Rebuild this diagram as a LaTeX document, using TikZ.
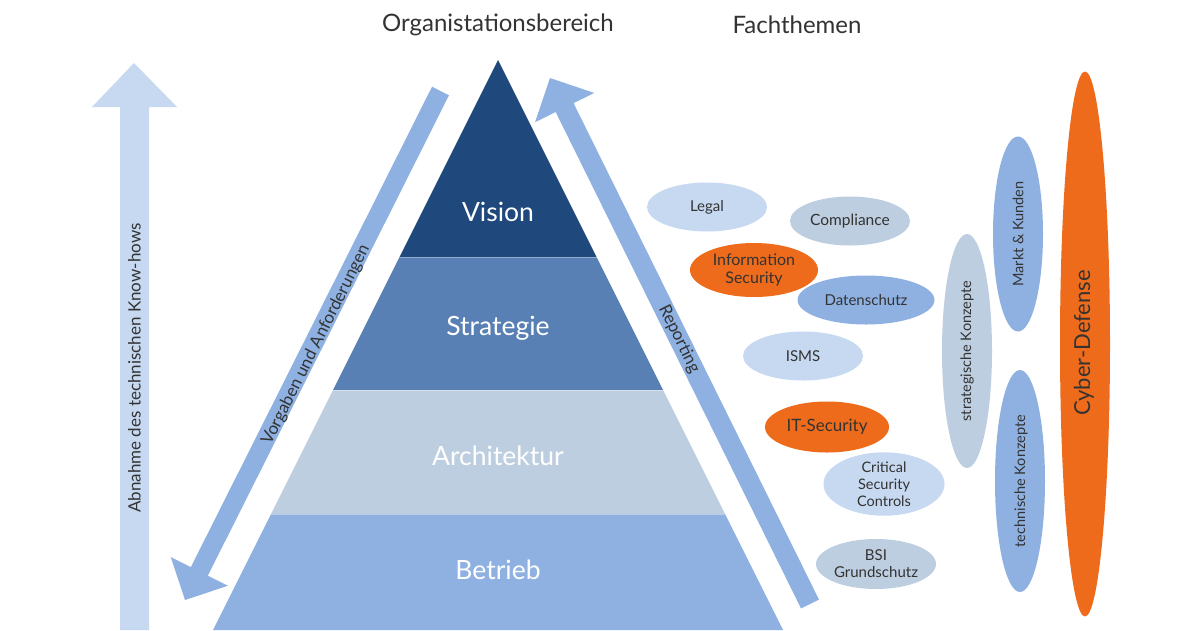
\documentclass[tikz,border=0pt]{standalone}
\usepackage{fontspec}
\setmainfont{Lato}
\usetikzlibrary{shapes.geometric,calc}
\definecolor{navy}{HTML}{1F497D}
\definecolor{strat}{HTML}{5880B4}
\definecolor{greyb}{HTML}{BDCEE1}
\definecolor{midb}{HTML}{8EB1E2}
\definecolor{lightb}{HTML}{C6D9F1}
\definecolor{orng}{HTML}{EE6B1B}
\definecolor{txt}{HTML}{333333}
\begin{document}
\begin{tikzpicture}[x=1pt,y=-1pt,
  bubble/.style={ellipse, inner sep=0pt, text=txt, align=center,
    font=\fontsize{15}{17.5}\selectfont},
  vbubble/.style={ellipse, inner sep=0pt, minimum width=50pt},
  vlabel/.style={rotate=90, text=txt, inner sep=0pt, font=\fontsize{14.5}{17}\selectfont},
  layer/.style={text=white, font=\fontsize{26.5}{30}\selectfont, inner sep=0pt},
  head/.style={text=txt, font=\fontsize{24}{28}\selectfont, inner sep=0pt},
  arrowtext/.style={text=txt, inner sep=0pt, font=\fontsize{17}{20}\selectfont}]
\useasboundingbox (0,0) rectangle (1200,630);
\fill[white] (0,0) rectangle (1200,630);

% headings
\node[head] (org) at (498,25) {Organistationsbereich};
\node[head] (fach) at (797,25) {Fachthemen};

% left vertical arrow
\fill[lightb] (120,630) -- (120,107) -- (92,107) -- (134,63) -- (177,107) -- (149,107) -- (149,630) -- cycle;
\node[arrowtext, rotate=90] (abn) at (134.5,368) {Abnahme des technischen Know-hows};

% pyramid
\fill[navy] (498,60) -- (596.5,257) -- (399.5,257) -- cycle;
\fill[strat] (399.5,257) -- (596.5,257) -- (663,390) -- (333,390) -- cycle;
\fill[greyb] (333,390) -- (663,390) -- (725,514) -- (271,514) -- cycle;
\fill[midb] (271,514) -- (725,514) -- (783,630) -- (213,630) -- cycle;
\draw[white, opacity=0.35, line width=0.8pt] (399.5,257) -- (596.5,257);
\draw[white, opacity=0.35, line width=0.8pt] (333,390) -- (663,390);
\draw[white, opacity=0.35, line width=0.8pt] (271,514) -- (725,514);
\node[layer] (vision) at (498,212) {Vision};
\node[layer] (strategie) at (498,328) {Strategie};
\node[layer] (archi) at (498,456) {Architektur};
\node[layer] (betrieb) at (498,570) {Betrieb};

% Vorgaben arrow (down-left)
\coordinate (vT) at (440.5,91);
\coordinate (vP) at (185,600);
\coordinate (vH) at ($(vP)!32pt!(vT)$);
\fill[midb] ($(vT)!9.5pt!90:(vP)$) -- ($(vH)!9.5pt!-90:(vT)$) -- ($(vH)!32pt!-90:(vT)$)
  -- (vP) -- ($(vH)!32pt!90:(vT)$) -- ($(vH)!9.5pt!90:(vT)$) -- ($(vT)!9.5pt!-90:(vP)$) -- cycle;
\node[arrowtext, rotate=63.4] (vorg) at (316,345) {Vorgaben und Anforderungen};

% Reporting arrow (up-left)
\coordinate (rT) at (810,604);
\coordinate (rP) at (550,78);
\coordinate (rH) at ($(rP)!33pt!(rT)$);
\fill[midb] ($(rT)!10pt!90:(rP)$) -- ($(rH)!10pt!-90:(rT)$) -- ($(rH)!33pt!-90:(rT)$)
  -- (rP) -- ($(rH)!33pt!90:(rT)$) -- ($(rH)!10pt!90:(rT)$) -- ($(rT)!10pt!-90:(rP)$) -- cycle;
\node[arrowtext, rotate=-63.7] (rep) at (679,339) {Reporting};

% topic bubbles
\node[bubble, fill=lightb, minimum width=120pt, minimum height=49pt] (legal) at (707,207) {Legal};
\node[bubble, fill=greyb, minimum width=120pt, minimum height=49pt, font=\fontsize{15.5}{18}\selectfont] (compl) at (850,221) {Compliance};
\node[bubble, fill=orng, minimum width=128pt, minimum height=54pt, font=\fontsize{16}{18.5}\selectfont] (infosec) at (754,270) {Information\\Security};
\node[bubble, fill=midb, minimum width=137pt, minimum height=49pt] (daten) at (866,300) {Datenschutz};
\node[bubble, fill=lightb, minimum width=120pt, minimum height=49pt] (isms) at (803,356) {ISMS};
\node[bubble, fill=orng, minimum width=124pt, minimum height=51pt, font=\fontsize{17}{20}\selectfont] (itsec) at (827,427) {IT-Security};
\node[bubble, fill=lightb, minimum width=121pt, minimum height=58pt, font=\fontsize{14.5}{17}\selectfont] (csc) at (884,484) {Critical\\Security\\Controls};
\node[bubble, fill=greyb, minimum width=120pt, minimum height=50pt, font=\fontsize{15}{17}\selectfont] (bsi) at (876,564) {BSI\\Grundschutz};

% vertical bubbles
\node[vbubble, fill=greyb, minimum height=234pt] (strk) at (967,351) {};
\node[vlabel] (strkt) at (967,351) {strategische Konzepte};
\node[vbubble, fill=midb, minimum height=195pt] (markt) at (1018,234) {};
\node[vlabel] (marktt) at (1018,234) {Markt \& Kunden};
\node[vbubble, fill=midb, minimum height=222pt] (tech) at (1020,481) {};
\node[vlabel] (techt) at (1021,481) {technische Konzepte};
\node[vbubble, fill=orng, minimum height=545pt] (cyber) at (1085,344) {};
\node[vlabel, font=\fontsize{22}{25}\selectfont] (cybert) at (1084,343) {Cyber-Defense};
\end{tikzpicture}
\end{document}
